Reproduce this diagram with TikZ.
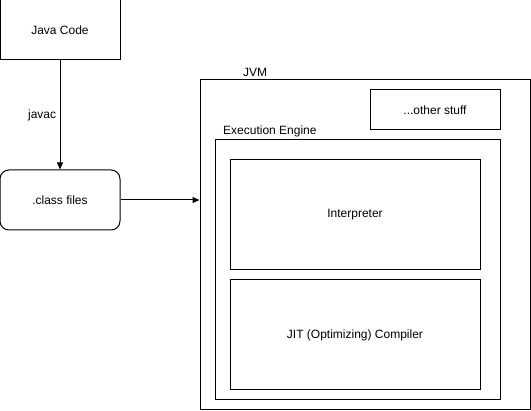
\documentclass[tikz,border=0pt]{standalone}
\usepackage{fontspec}
\setmainfont{Liberation Sans}
\usetikzlibrary{arrows.meta}

\tikzset{
  box/.style={draw, rectangle, line width=1pt, inner sep=0pt, align=center},
  flow/.style={line width=1pt, -{Triangle[length=7pt,width=6pt]}},
}

\begin{document}
\begin{tikzpicture}[x=1pt,y=-1pt,font=\fontsize{12}{14}\selectfont]
\useasboundingbox (0,0) rectangle (531,411);

% Source side
\node[box, minimum width=120pt, minimum height=60pt] (java) at (60,30) {Java Code};
\node[box, rounded corners=9pt, minimum width=120pt, minimum height=60pt] (classfiles) at (60,200) {.class files};

% JVM
\node[box, minimum width=330pt, minimum height=330pt] (jvm) at (365,245) {};
\node (jvmlabel) at (255,72) {JVM};
\node[box, minimum width=130pt, minimum height=40pt] (other) at (435,110) {...other stuff};

% Execution engine
\node[box, minimum width=285pt, minimum height=260pt] (engine) at (357.5,270) {};
\node[anchor=west, inner sep=3pt] (enginelabel) at (220,131) {Execution Engine};
\node[box, minimum width=250pt, minimum height=110pt] (interp) at (355,215) {Interpreter};
\node[box, minimum width=250pt, minimum height=110pt] (jit) at (355,335) {JIT (Optimizing) Compiler};

% Arrows
\draw[flow] (java) -- node[midway, left] (javac) {javac} (classfiles);
\draw[flow] (classfiles.east) -- (classfiles.east -| jvm.west);
\end{tikzpicture}
\end{document}
